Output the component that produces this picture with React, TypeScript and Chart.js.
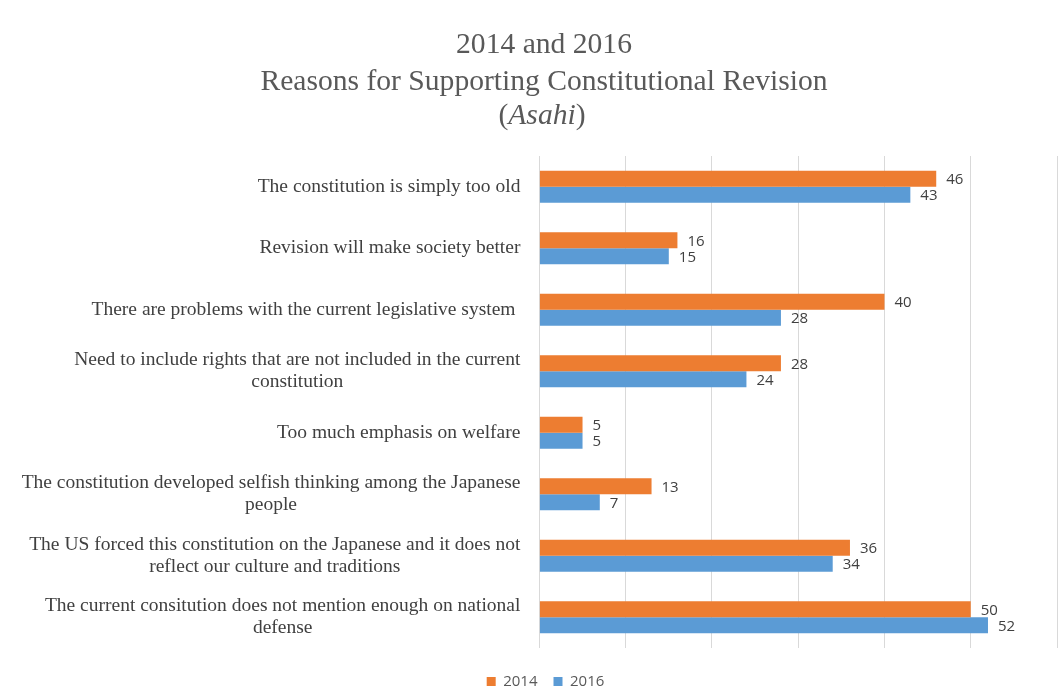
import React, { useEffect, useRef } from "react";
import { Chart, registerables } from "chart.js";

Chart.register(...registerables);

// ---- data ----
const categories: string[][] = [
  ["The constitution is simply too old"],
  ["Revision will make society better"],
  ["There are problems with the current legislative system "],
  ["Need to include rights that are not included in the current", "constitution"],
  ["Too much emphasis on welfare"],
  ["The constitution developed selfish thinking among the Japanese", "people"],
  ["The US forced this constitution on the Japanese and it does not", "reflect our culture and traditions"],
  ["The current consitution does not mention enough on national", "defense"],
];
const values2014 = [46, 16, 40, 28, 5, 13, 36, 50];
const values2016 = [43, 15, 28, 24, 5, 7, 34, 52];
const seriesNames = ["2014", "2016"];
const titleLines = ["2014 and 2016", "Reasons for Supporting Constitutional Revision"];
const sourceName = "Asahi";
const xMin = 0;
const xMax = 60;
const xStep = 10;

const SERIF = "'Liberation Serif', 'Times New Roman', serif";
const SANS = "'Open Sans', 'Noto Sans', sans-serif";

const titlePlugin = {
  id: "customTitle",
  afterDraw(chart: any) {
    const ctx = chart.ctx;
    ctx.save();
    ctx.fillStyle = "#595959";
    ctx.textBaseline = "alphabetic";
    ctx.textAlign = "center";
    const cx = 544;
    const normal = `29.6px ${SERIF}`;
    const italic = `italic 29.6px ${SERIF}`;
    ctx.font = normal;
    ctx.fillText(titleLines[0], cx, 53);
    ctx.fillText(titleLines[1], cx, 90);
    // third line: (Asahi) with italic name
    const wp = ctx.measureText("(").width;
    const wq = ctx.measureText(")").width;
    ctx.font = italic;
    const wn = ctx.measureText(sourceName).width;
    const total = wp + wn + wq;
    let x = cx - 2 - total / 2;
    ctx.textAlign = "left";
    ctx.font = normal;
    ctx.fillText("(", x, 124);
    x += wp;
    ctx.font = italic;
    ctx.fillText(sourceName, x, 124);
    x += wn;
    ctx.font = normal;
    ctx.fillText(")", x, 124);
    ctx.restore();
  },
};

const yLabelPlugin = {
  id: "yLabels",
  afterDraw(chart: any) {
    const ctx = chart.ctx;
    const y = chart.scales.y;
    ctx.save();
    ctx.font = `19.5px ${SERIF}`;
    ctx.fillStyle = "#404040";
    ctx.textAlign = "center";
    ctx.textBaseline = "middle";
    const right = y.right - 19;
    const lh = 22;
    categories.forEach((lines, i) => {
      const py = y.getPixelForValue(i);
      const maxW = Math.max(...lines.map((l) => ctx.measureText(l).width));
      const cx = right - maxW / 2;
      const y0 = py - ((lines.length - 1) * lh) / 2;
      lines.forEach((l, j) => {
        const t = l.trimEnd();
        const shift = t.length !== l.length ? ctx.measureText(l.slice(t.length)).width / 2 : 0;
        ctx.fillText(t, cx - shift, y0 + j * lh);
      });
    });
    ctx.restore();
  },
};

const valueLabelPlugin = {
  id: "valueLabels",
  afterDatasetsDraw(chart: any) {
    const ctx = chart.ctx;
    ctx.save();
    ctx.font = `15px ${SANS}`;
    ctx.fillStyle = "#404040";
    ctx.textAlign = "left";
    ctx.textBaseline = "middle";
    chart.data.datasets.forEach((ds: any, di: number) => {
      const meta = chart.getDatasetMeta(di);
      meta.data.forEach((bar: any, i: number) => {
        ctx.fillText(String(ds.data[i]), bar.x + 10, bar.y + 1);
      });
    });
    ctx.restore();
  },
};

export default function App() {
  const ref = useRef<HTMLCanvasElement>(null);
  useEffect(() => {
    document.body.style.margin = "0";
    const canvas = ref.current!;
    const chart = new Chart(canvas, {
      type: "bar",
      data: {
        labels: categories.map((c) => c.join(" ")),
        datasets: [
          {
            label: seriesNames[0],
            data: values2014,
            backgroundColor: "#ED7D31",
            categoryPercentage: 0.52,
            barPercentage: 1,
          },
          {
            label: seriesNames[1],
            data: values2016,
            backgroundColor: "#5B9BD5",
            categoryPercentage: 0.52,
            barPercentage: 1,
          },
        ],
      },
      options: {
        indexAxis: "y",
        responsive: false,
        animation: false,
        layout: { padding: { top: 156, left: 34, right: 1, bottom: -12 } },
        scales: {
          x: {
            min: xMin,
            max: xMax,
            ticks: { display: false, stepSize: xStep },
            grid: { color: "#d9d9d9", drawTicks: false },
            border: { display: false },
            afterFit(scale: any) {
              scale.height = 10;
            },
          },
          y: {
            ticks: { display: false },
            grid: { display: false, drawTicks: false },
            border: { display: false },
            afterFit(scale: any) {
              scale.width = 505.4;
            },
          },
        },
        plugins: {
          title: { display: false },
          tooltip: { enabled: false },
          legend: {
            position: "bottom",
            labels: {
              boxWidth: 9,
              boxHeight: 9,
              color: "#595959",
              font: { size: 15, family: SANS },
              padding: 16,
            },
          },
        },
      },
      plugins: [titlePlugin, yLabelPlugin, valueLabelPlugin],
    });
    return () => chart.destroy();
  }, []);
  return (
    <div style={{ width: 1058, height: 687, background: "#fff" }}>
      <canvas ref={ref} width={1058} height={687} />
    </div>
  );
}
